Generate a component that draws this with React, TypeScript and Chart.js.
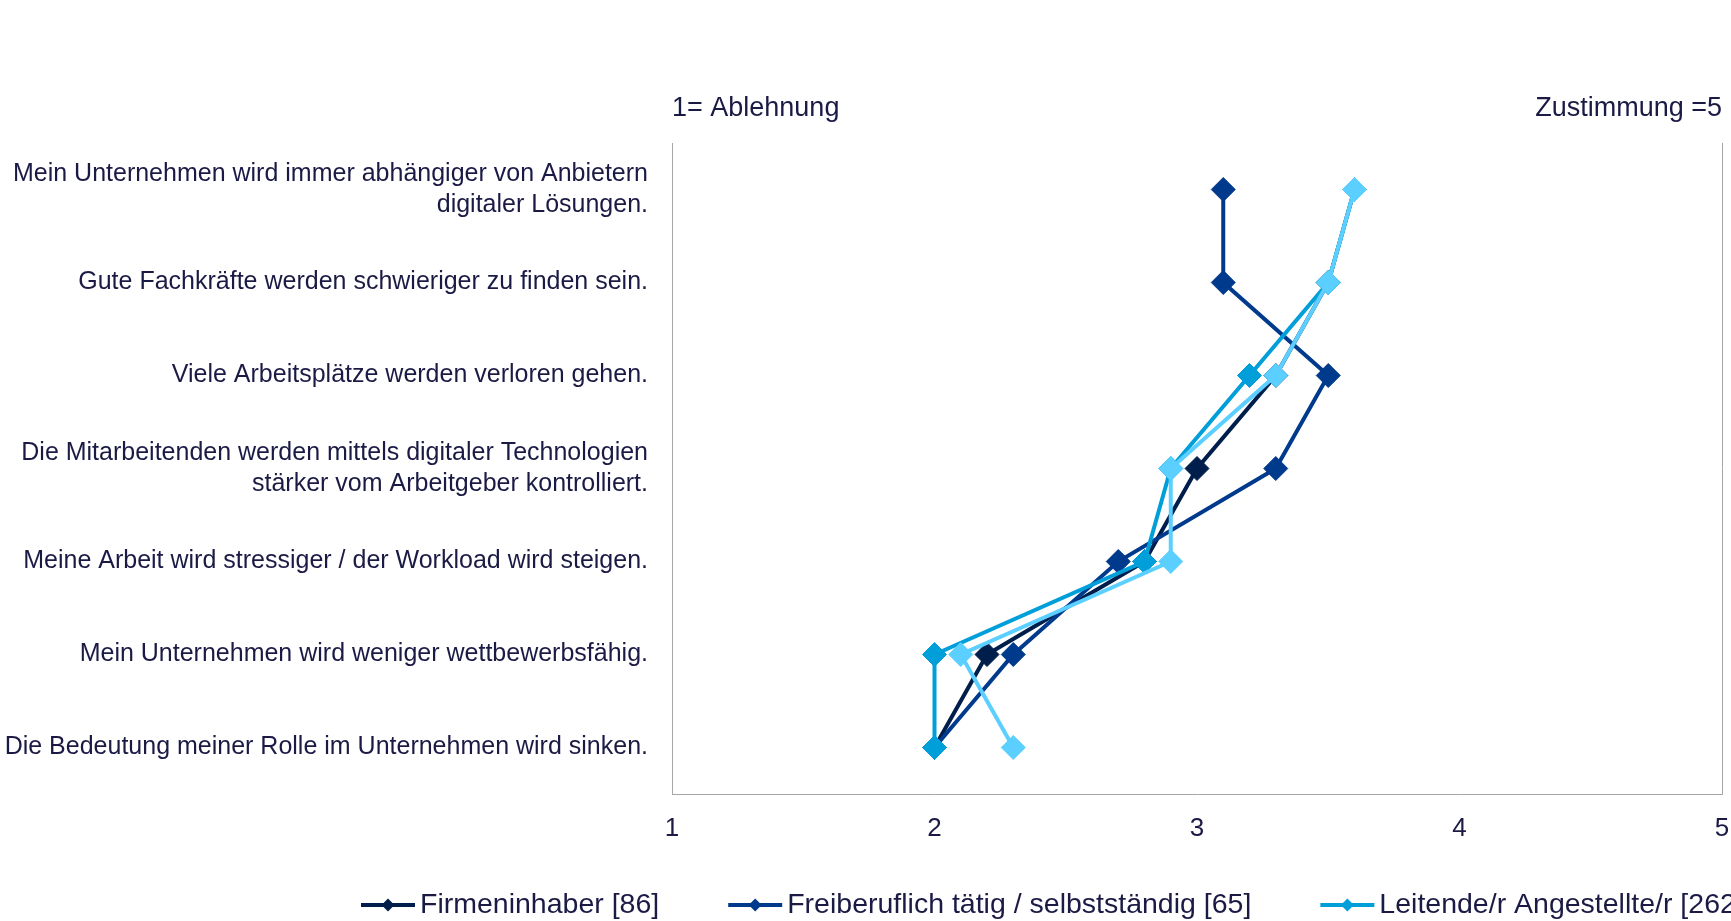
import React, { useEffect, useRef } from "react";
import { Chart, registerables } from "chart.js";

Chart.register(...registerables);

// Statements (one row each, top to bottom); inner arrays are the label lines.
const statements: string[][] = [
  ["Mein Unternehmen wird immer abhängiger von Anbietern", "digitaler Lösungen."],
  ["Gute Fachkräfte werden schwieriger zu finden sein."],
  ["Viele Arbeitsplätze werden verloren gehen."],
  ["Die Mitarbeitenden werden mittels digitaler Technologien", "stärker vom Arbeitgeber kontrolliert."],
  ["Meine Arbeit wird stressiger / der Workload wird steigen."],
  ["Mein Unternehmen wird weniger wettbewerbsfähig."],
  ["Die Bedeutung meiner Rolle im Unternehmen wird sinken."],
];

// Mean agreement per group (1 = Ablehnung ... 5 = Zustimmung)
const firmeninhaber = [3.6, 3.5, 3.3, 3.0, 2.8, 2.2, 2.0];
const freiberuflich = [3.1, 3.1, 3.5, 3.3, 2.7, 2.3, 2.0];
const leitende = [3.6, 3.5, 3.2, 2.9, 2.8, 2.0, 2.0];
const angestellte = [3.6, 3.5, 3.3, 2.9, 2.9, 2.1, 2.3];

const seriesNames = [
  "Firmeninhaber [86]",
  "Freiberuflich tätig / selbstständig [65]",
  "Leitende/r Angestellte/r [262]",
  "Angestellte/r ohne Führungsfunktion",
];
const seriesColors = ["#001E4B", "#003A8C", "#009FDA", "#5BCFFF"];

const scaleTicks = [1, 2, 3, 4, 5];
const scaleLow = "1= Ablehnung";
const scaleHigh = "Zustimmung =5";

const FONT = '"Liberation Sans", Arial, Helvetica, sans-serif';
const TEXT = "#1B1A45";
const AXIS = "#A6A6A6";

const decorations = {
  id: "decorations",
  afterDraw(chart: any) {
    const { ctx, chartArea } = chart;
    ctx.save();

    // right edge of the plot frame
    ctx.strokeStyle = AXIS;
    ctx.lineWidth = 1;
    ctx.beginPath();
    ctx.moveTo(Math.round(chartArea.right) + 0.5, chartArea.top);
    ctx.lineTo(Math.round(chartArea.right) + 0.5, chartArea.bottom);
    ctx.stroke();

    // scale end captions above the plot
    ctx.fillStyle = TEXT;
    ctx.font = `27px ${FONT}`;
    ctx.textBaseline = "middle";
    ctx.textAlign = "left";
    ctx.fillText(scaleLow, chartArea.left, chartArea.top - 34);
    ctx.textAlign = "right";
    ctx.fillText(scaleHigh, chartArea.right, chartArea.top - 34);

    // legend row along the bottom
    const y = 905;
    let x = 361;
    ctx.font = `28.5px ${FONT}`;
    ctx.textAlign = "left";
    chart.data.datasets.forEach((ds: any) => {
      const color = ds.borderColor as string;
      ctx.strokeStyle = color;
      ctx.lineWidth = 4;
      ctx.beginPath();
      ctx.moveTo(x, y);
      ctx.lineTo(x + 54, y);
      ctx.stroke();
      const cx = x + 27;
      ctx.fillStyle = color;
      ctx.beginPath();
      ctx.moveTo(cx - 6.5, y);
      ctx.lineTo(cx, y - 6.5);
      ctx.lineTo(cx + 6.5, y);
      ctx.lineTo(cx, y + 6.5);
      ctx.closePath();
      ctx.fill();
      ctx.fillStyle = TEXT;
      ctx.fillText(ds.label, x + 59, y);
      x += 59 + ctx.measureText(ds.label).width + 69;
    });

    ctx.restore();
  },
};

export default function App() {
  const canvasRef = useRef<HTMLCanvasElement | null>(null);

  useEffect(() => {
    document.body.style.margin = "0";
    document.body.style.overflow = "hidden";
    const canvas = canvasRef.current;
    if (!canvas) return;

    const seriesData = [firmeninhaber, freiberuflich, leitende, angestellte];
    const datasets = seriesData.map((values, i) => ({
      label: seriesNames[i],
      data: values,
      borderColor: seriesColors[i],
      backgroundColor: seriesColors[i],
      pointBackgroundColor: seriesColors[i],
      pointBorderColor: seriesColors[i],
      pointStyle: "rectRot" as const,
      pointRadius: 12,
      pointBorderWidth: 1,
      borderWidth: 4,
      tension: 0,
      // later series are painted over earlier ones
      order: seriesData.length - i,
    }));

    const chart = new Chart(canvas, {
      type: "line",
      data: { labels: statements as any, datasets },
      options: {
        indexAxis: "y",
        responsive: false,
        animation: false,
        layout: { padding: { top: 143, right: 0, bottom: 0, left: 0 } },
        plugins: {
          legend: { display: false },
          tooltip: { enabled: false },
        },
        scales: {
          y: {
            type: "category",
            offset: true,
            grid: { display: false, drawTicks: false },
            border: { display: true, color: AXIS, width: 1 },
            ticks: {
              color: TEXT,
              padding: 24,
              font: { family: FONT, size: 25, lineHeight: 1.24 },
            },
            afterFit: (s: any) => {
              s.width = 672;
              s.paddingTop = 0;
              s.paddingBottom = 0;
            },
          },
          x: {
            type: "linear",
            position: "bottom",
            min: scaleTicks[0],
            max: scaleTicks[scaleTicks.length - 1],
            grid: { display: false, drawTicks: false },
            border: { display: true, color: AXIS, width: 1 },
            ticks: {
              stepSize: 1,
              color: TEXT,
              padding: 19,
              maxRotation: 0,
              font: { family: FONT, size: 26 },
              callback: (v: any) => (scaleTicks.includes(Number(v)) ? String(v) : ""),
            },
            afterFit: (s: any) => {
              s.height = 127;
              s.paddingLeft = 0;
              s.paddingRight = 0;
            },
          },
        },
      },
      plugins: [decorations],
    });

    return () => chart.destroy();
  }, []);

  return (
    <div style={{ width: 1731, height: 921, overflow: "hidden", background: "#ffffff" }}>
      <canvas ref={canvasRef} width={1735} height={921} style={{ display: "block" }} />
    </div>
  );
}
